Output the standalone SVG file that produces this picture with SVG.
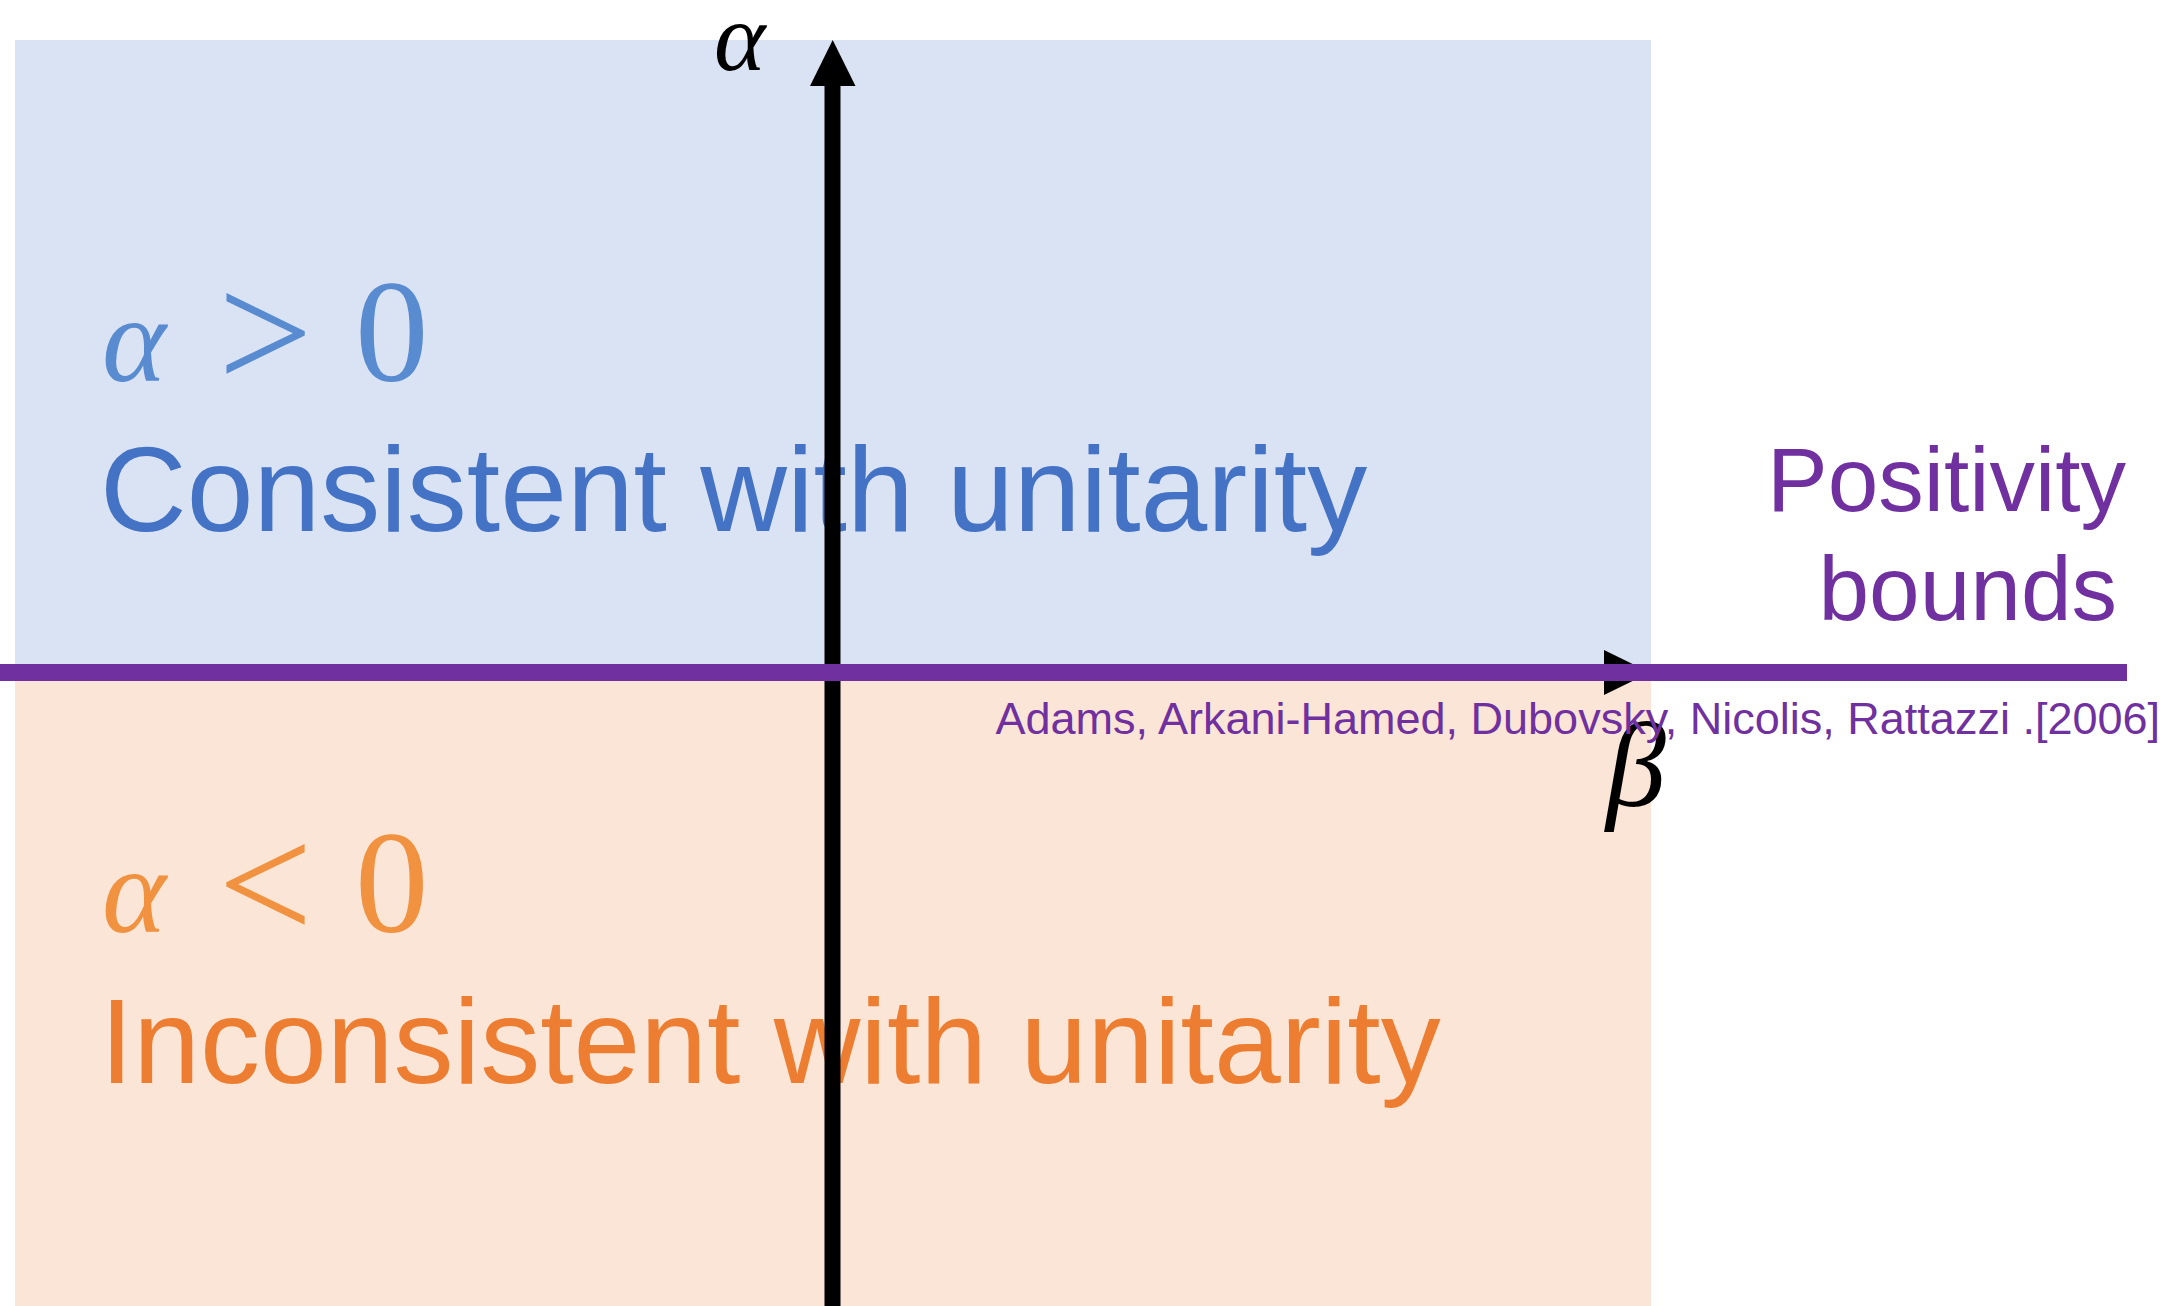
<svg xmlns="http://www.w3.org/2000/svg" width="2170" height="1306" viewBox="0 0 2170 1306">
<style>
.math{font-family:"Liberation Serif","DejaVu Serif",serif}
.it{font-style:italic}
.sans{font-family:"Liberation Sans",Arial,sans-serif}
.pur{fill:#7030a0}
</style>
<rect width="2170" height="1306" fill="#ffffff"/>
<g id="region-positive">
<rect x="15" y="40" width="1636" height="633" fill="#dae3f3"/>
<text class="math" font-size="147" fill="#588bd0"><tspan class="it" x="102" y="381" font-size="122">α</tspan><tspan x="218" y="389" font-size="168">&gt;</tspan><tspan x="355" y="381">0</tspan></text>
<text class="sans" x="100" y="531" font-size="120" fill="#4472c4">Consistent with unitarity</text>
</g>
<g id="region-negative">
<rect x="15" y="673" width="1636" height="633" fill="#fbe5d6"/>
<text class="math" font-size="147" fill="#f0923f"><tspan class="it" x="102" y="932" font-size="122">α</tspan><tspan x="218" y="940" font-size="168">&lt;</tspan><tspan x="355" y="932">0</tspan></text>
<text class="sans" x="100" y="1083" font-size="120" fill="#ed7d31">Inconsistent with unitarity</text>
</g>
<g id="connectors">
<line x1="15" y1="672.5" x2="1606" y2="672.5" stroke="#000" stroke-width="16"/>
<polygon points="1604,650 1650,672.5 1604,695" fill="#000"/>
<line x1="832.5" y1="1306" x2="832.5" y2="84" stroke="#000" stroke-width="16"/>
<polygon points="810,86 832.7,40 855.5,86" fill="#000"/>
<line id="positivity-line" x1="0" y1="672.5" x2="2127" y2="672.5" stroke="#7030a0" stroke-width="17"/>
</g>
<g id="axis-labels">
<text class="math it" x="714" y="70" font-size="98" fill="#000">α</text>
<text class="math it" x="1606" y="806" font-size="120" fill="#000">β</text>
</g>
<g id="positivity-label">
<text class="sans pur" x="2126" y="511" font-size="91" text-anchor="end">Positivity</text>
<text class="sans pur" x="2117" y="620" font-size="91" text-anchor="end">bounds</text>
<text class="sans pur" x="2160" y="734" font-size="45" text-anchor="end">Adams, Arkani-Hamed, Dubovsky, Nicolis, Rattazzi .[2006]</text>
</g>
</svg>
